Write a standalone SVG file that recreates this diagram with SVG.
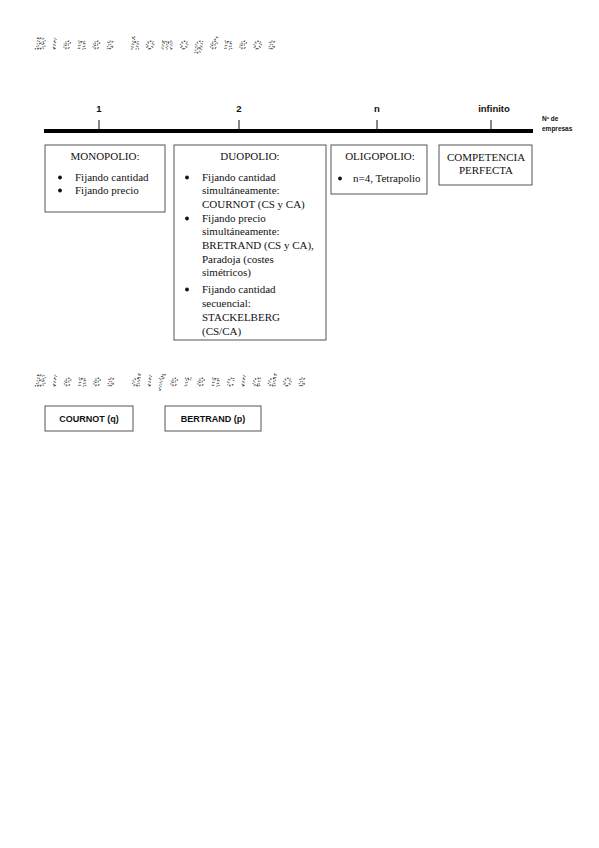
<svg xmlns="http://www.w3.org/2000/svg" width="599" height="848" viewBox="0 0 599 848">
<style>
.bg{fill:#fff}
.box{fill:#fff;stroke:#555;stroke-width:1}
.s{font-family:"Liberation Serif","Times New Roman",serif;font-size:11px;fill:#111}
.c{text-anchor:middle}
.dot{fill:#111}
.lab{font-family:"Liberation Sans",Arial,sans-serif;font-weight:bold;font-size:9.5px;fill:#111;text-anchor:middle}
.sm{font-family:"Liberation Sans",Arial,sans-serif;font-weight:bold;font-size:6.5px;fill:#111}
.b9{font-family:"Liberation Sans",Arial,sans-serif;font-weight:bold;font-size:9px;fill:#111;text-anchor:middle}
.hd{font-family:"Liberation Serif","Times New Roman",serif;font-style:italic;font-size:17px;fill:none;stroke:#333;stroke-width:0.8;stroke-dasharray:1.2 1.6}
.tick{stroke:#111;stroke-width:1}
</style>
<rect class="bg" x="0" y="0" width="599" height="848"/>
<text id="heading1" class="hd" x="35" y="49" textLength="240" lengthAdjust="spacing">Bienes homogéneos</text>
<g id="axis">
<line x1="44" y1="131" x2="533" y2="131" stroke="#000" stroke-width="4"/>
<line class="tick" x1="99" y1="120" x2="99" y2="129"/>
<line class="tick" x1="239" y1="120" x2="239" y2="129"/>
<line class="tick" x1="377" y1="120" x2="377" y2="129"/>
<line class="tick" x1="491" y1="120" x2="491" y2="129"/>
<text class="lab" x="99" y="112">1</text>
<text class="lab" x="239" y="112">2</text>
<text class="lab" x="377" y="112">n</text>
<text class="lab" x="494" y="112">infinito</text>
<text class="sm" x="542" y="121">Nº de</text>
<text class="sm" x="542" y="131">empresas</text>
</g>
<g id="monopolio">
<rect class="box" x="45" y="145" width="120" height="67"/>
<text class="s c" x="105" y="160">MONOPOLIO:</text>
<circle class="dot" cx="60" cy="177.5" r="1.9"/><text class="s" x="75" y="181">Fijando cantidad</text>
<circle class="dot" cx="60" cy="190.5" r="1.9"/><text class="s" x="75" y="194">Fijando precio</text>
</g>
<g id="duopolio">
<rect class="box" x="174" y="145" width="152" height="195"/>
<text class="s c" x="250" y="160">DUOPOLIO:</text>
<circle class="dot" cx="187" cy="177.5" r="1.9"/>
<text class="s" x="202" y="181">Fijando cantidad</text>
<text class="s" x="202" y="194">simultáneamente:</text>
<text class="s" x="202" y="208">COURNOT (CS y CA)</text>
<circle class="dot" cx="187" cy="218.5" r="1.9"/>
<text class="s" x="202" y="222">Fijando precio</text>
<text class="s" x="202" y="235">simultáneamente:</text>
<text class="s" x="202" y="249">BRETRAND (CS y CA),</text>
<text class="s" x="202" y="263">Paradoja (costes</text>
<text class="s" x="202" y="276">simétricos)</text>
<circle class="dot" cx="187" cy="289.5" r="1.9"/>
<text class="s" x="202" y="293">Fijando cantidad</text>
<text class="s" x="202" y="307">secuencial:</text>
<text class="s" x="202" y="321">STACKELBERG</text>
<text class="s" x="202" y="335">(CS/CA)</text>
</g>
<g id="oligopolio">
<rect class="box" x="331" y="145" width="96" height="49"/>
<text class="s c" x="380" y="160">OLIGOPOLIO:</text>
<circle class="dot" cx="340" cy="178.5" r="1.9"/><text class="s" x="353" y="182">n=4, Tetrapolio</text>
</g>
<g id="competencia">
<rect class="box" x="439" y="145" width="93" height="40"/>
<text class="s c" x="486" y="161">COMPETENCIA</text>
<text class="s c" x="486" y="174">PERFECTA</text>
</g>
<text id="heading2" class="hd" x="35" y="386" textLength="270" lengthAdjust="spacing">Bienes diferenciados</text>
<g id="cournot">
<rect class="box" x="45" y="406" width="88" height="25"/>
<text class="b9" x="89" y="422">COURNOT (q)</text>
</g>
<g id="bertrand">
<rect class="box" x="165" y="406" width="96" height="25"/>
<text class="b9" x="213" y="422">BERTRAND (p)</text>
</g>
<g id="connectors"></g>
</svg>
